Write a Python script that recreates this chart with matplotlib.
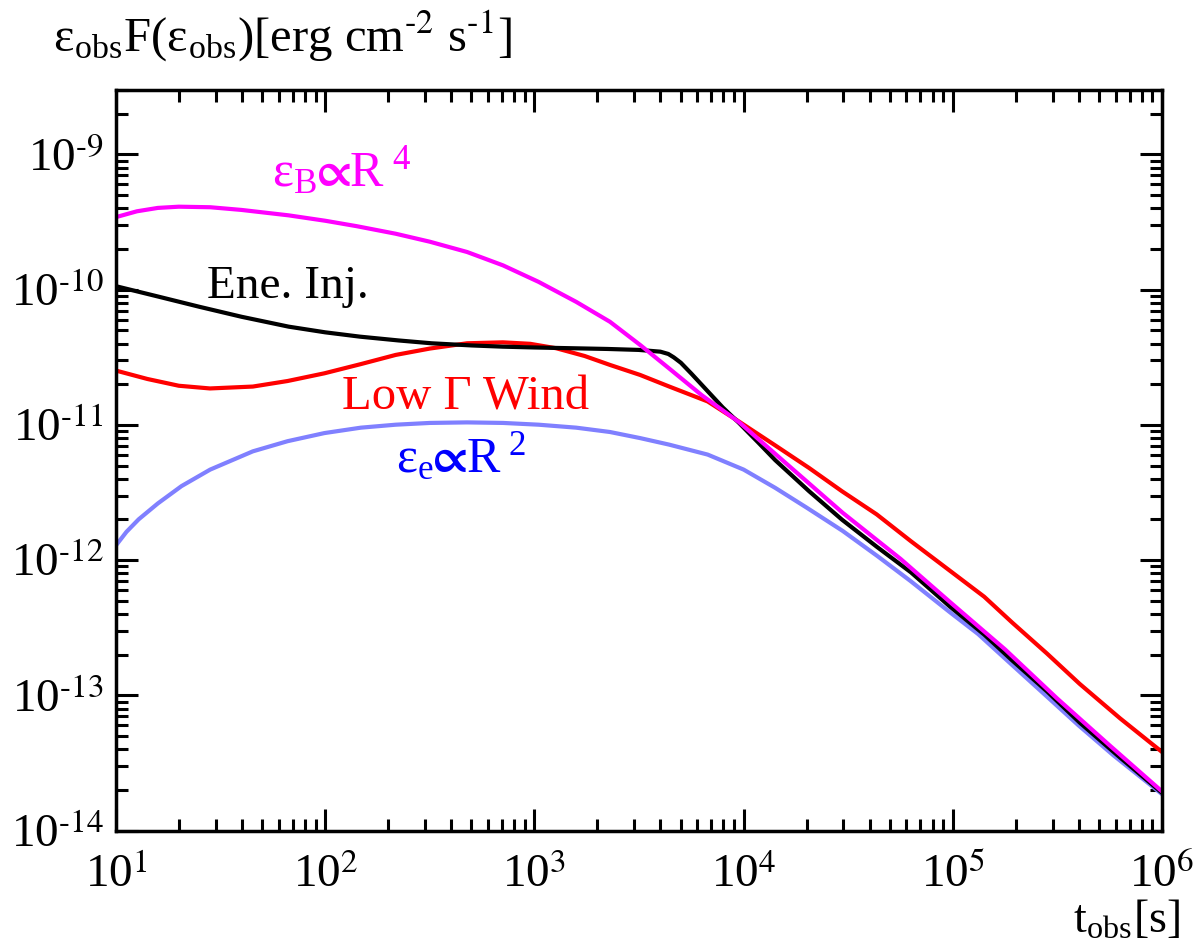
import matplotlib
matplotlib.use("Agg")
import matplotlib.pyplot as plt
from matplotlib.ticker import FuncFormatter
import numpy as np

plt.rcParams['font.family'] = ['Liberation Serif', 'DejaVu Serif']
plt.rcParams['mathtext.fontset'] = 'stix'
plt.rcParams['axes.unicode_minus'] = False

# values, in log10 units (log t [s], log eps F)
# eps_B ~ R^4 (magenta)
lt_epsB = [1.0, 1.1, 1.2, 1.3, 1.45, 1.6, 1.825, 2.0, 2.15, 2.337, 2.5, 2.678, 2.85, 3.02,
           3.2, 3.361, 3.505, 3.643, 3.8, 3.978, 4.2, 4.474, 4.75, 4.987, 5.25, 5.497,
           5.75, 6.0]
lF_epsB = [-9.463, -9.42, -9.395, -9.386, -9.39, -9.41, -9.45, -9.49, -9.53, -9.586, -9.645,
           -9.721, -9.82, -9.942, -10.09, -10.237, -10.408, -10.581, -10.78, -10.979,
           -11.28, -11.65, -11.99, -12.31, -12.66, -13.02, -13.37, -13.71]

# energy injection (black)
lt_inj = [1.0, 1.2, 1.398, 1.6, 1.825, 2.0, 2.166, 2.35, 2.508, 2.7, 2.849, 3.0, 3.191, 3.35,
          3.498, 3.602, 3.64, 3.666, 3.70, 3.75, 3.828, 3.9, 3.978, 4.07, 4.151, 4.313,
          4.47, 4.636, 4.8, 4.987, 5.15, 5.283, 5.45, 5.606, 5.8, 6.0]
lF_inj = [-9.974, -10.05, -10.126, -10.20, -10.273, -10.315, -10.347, -10.375, -10.396,
          -10.412, -10.421, -10.427, -10.433, -10.438, -10.445, -10.458, -10.475, -10.50,
          -10.54, -10.62, -10.75, -10.87, -10.985, -11.13, -11.26, -11.49, -11.70, -11.90,
          -12.09, -12.344, -12.55, -12.74, -12.97, -13.2, -13.46, -13.72]

# low Gamma wind (red)
lt_wind = [1.0, 1.15, 1.3, 1.449, 1.654, 1.82, 1.996, 2.17, 2.337, 2.5, 2.678, 2.849, 2.98,
           3.105, 3.24, 3.361, 3.505, 3.643, 3.828, 3.978, 4.15, 4.313, 4.47, 4.636, 4.8,
           4.987, 5.15, 5.283, 5.45, 5.606, 5.8, 6.0]
lF_wind = [-10.598, -10.66, -10.71, -10.73, -10.716, -10.675, -10.618, -10.55, -10.482,
           -10.435, -10.396, -10.389, -10.400, -10.433, -10.49, -10.556, -10.630, -10.715,
           -10.826, -10.975, -11.15, -11.318, -11.49, -11.661, -11.86, -12.079, -12.27,
           -12.46, -12.69, -12.914, -13.17, -13.418]

# eps_e ~ R^2 (light blue)
lt_epse = [1.0, 1.05, 1.108, 1.2, 1.313, 1.45, 1.654, 1.82, 1.996, 2.17, 2.337, 2.5, 2.678,
           2.85, 3.02, 3.2, 3.361, 3.505, 3.643, 3.828, 4.0, 4.151, 4.3, 4.474, 4.64, 4.797,
           4.987, 5.121, 5.28, 5.444, 5.6, 5.767, 6.0]
lF_epse = [-11.89, -11.79, -11.698, -11.58, -11.452, -11.33, -11.195, -11.12, -11.060,
           -11.02, -10.998, -10.985, -10.981, -10.985, -10.998, -11.02, -11.052, -11.097,
           -11.145, -11.219, -11.33, -11.465, -11.61, -11.784, -11.97, -12.153, -12.386,
           -12.546, -12.77, -13.0, -13.22, -13.442, -13.73]


def pow10_label(v, pos):
    e = int(round(np.log10(v)))
    return r'$\mathdefault{10^{\text{%d}}}$' % e


def main():
    fig = plt.figure(figsize=(11.95, 9.46), dpi=100)
    ax = fig.add_axes([0.0971, 0.1219, 0.8753, 0.7830])

    curves = [(lt_epse, lF_epse, '#8080ff'), (lt_wind, lF_wind, 'red'),
              (lt_inj, lF_inj, 'black'), (lt_epsB, lF_epsB, '#ff00ff')]
    for lt, lF, c in curves:
        ax.plot(10.0 ** np.array(lt), 10.0 ** np.array(lF), color=c, lw=3)

    ax.set_xscale('log')
    ax.set_yscale('log')
    ax.set_xlim(10, 1e6)
    ax.set_ylim(1e-14, 3e-9)
    ax.xaxis.set_major_formatter(FuncFormatter(pow10_label))
    ax.yaxis.set_major_formatter(FuncFormatter(pow10_label))

    ax.tick_params(which='both', direction='in', top=True, right=True, width=2.2)
    ax.tick_params(which='major', length=16, labelsize=34)
    ax.tick_params(axis='x', which='major', pad=17)
    ax.tick_params(axis='y', which='major', pad=9)
    ax.tick_params(which='minor', length=8.5)
    for s in ax.spines.values():
        s.set_linewidth(2.5)

    ax.text(0.149, 0.868, r'ε$_{\mathregular{B}}\!\!\boldsymbol{\propto}\!$R$^{\mathregular{\ 4}}$',
            transform=ax.transAxes, color='#ff00ff', fontsize=36, va='baseline')
    ax.text(0.087, 0.719, 'Ene. Inj.', transform=ax.transAxes, color='black',
            fontsize=34, va='baseline')
    ax.text(0.216, 0.569, 'Low Γ Wind', transform=ax.transAxes, color='red',
            fontsize=35, va='baseline')
    ax.text(0.268, 0.483, r'ε$_{\mathregular{e}}\!\!\boldsymbol{\propto}\!$R$^{\mathregular{\ 2}}$',
            transform=ax.transAxes, color='blue', fontsize=36, va='baseline')

    fig.text(0.044, 0.945,
             r'ε$_{\mathregular{obs}}$F(ε$_{\mathregular{obs}}$)[erg cm$^{\text{-2}}$ s$^{\text{-1}}$]',
             fontsize=35, va='baseline')
    fig.text(0.898, 0.0148, r't$_{\mathregular{obs}}$[s]', fontsize=33, va='baseline')

    fig.savefig('out.png', dpi=100)


if __name__ == "__main__":
    main()
